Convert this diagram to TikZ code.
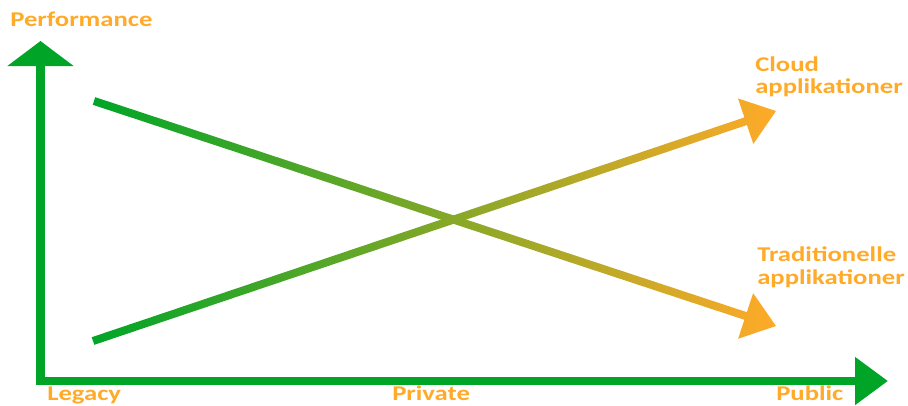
\documentclass[tikz,border=0pt]{standalone}
\usepackage{fontspec}
\setmainfont{Carlito}
\usetikzlibrary{arrows.meta,calc}
\definecolor{axgreen}{RGB}{0,165,40}
\definecolor{lorange}{RGB}{255,170,40}
\begin{document}
\begin{tikzpicture}[x=1pt,y=-1pt,
  lbl/.style={font=\bfseries\fontsize{21}{23}\selectfont, text=lorange, inner sep=0pt, anchor=base west, xscale=1.27},
  axis/.style={draw=axgreen, line width=8.5pt, line join=miter}]
\useasboundingbox (0,0) rectangle (908,405);
% axes
\coordinate (ytip) at (40.5,41);
\coordinate (corner) at (40.5,381);
\coordinate (xtip) at (888,381);
\draw[axis, {Triangle[width=65pt,length=25pt]}-{Triangle[width=46pt,length=33pt]}]
  (ytip) -- (corner) -- (xtip);
% trend arrows
\coordinate (tA) at (94,101);
\coordinate (tT) at (776,326);
\coordinate (cA) at (93,341);
\coordinate (cT) at (776,111);
\coordinate (tB) at ($(tT)!32pt!(tA)$);
\coordinate (cB) at ($(cT)!32pt!(cA)$);
\shade[left color=axgreen, right color=lorange]
  ($(tA)!4pt!90:(tT)$) -- ($(tB)!4pt!-90:(tA)$) -- ($(tB)!24pt!-90:(tA)$) -- (tT)
  -- ($(tB)!24pt!90:(tA)$) -- ($(tB)!4pt!90:(tA)$) -- ($(tA)!4pt!-90:(tT)$) -- cycle;
\shade[left color=axgreen, right color=lorange]
  ($(cA)!4pt!90:(cT)$) -- ($(cB)!4pt!-90:(cA)$) -- ($(cB)!24pt!-90:(cA)$) -- (cT)
  -- ($(cB)!24pt!90:(cA)$) -- ($(cB)!4pt!90:(cA)$) -- ($(cA)!4pt!-90:(cT)$) -- cycle;
% labels
\node[lbl] (perf) at (10,26) {Performance};
\node[lbl] (cloud1) at (755,71) {Cloud};
\node[lbl] (cloud2) at (755,93) {applikationer};
\node[lbl] (trad1) at (757,261) {Traditionelle};
\node[lbl] (trad2) at (757,284) {applikationer};
\node[lbl] (legacy) at (47,400) {Legacy};
\node[lbl] (private) at (392,400) {Private};
\node[lbl] (public) at (776,400) {Public};
\end{tikzpicture}
\end{document}
